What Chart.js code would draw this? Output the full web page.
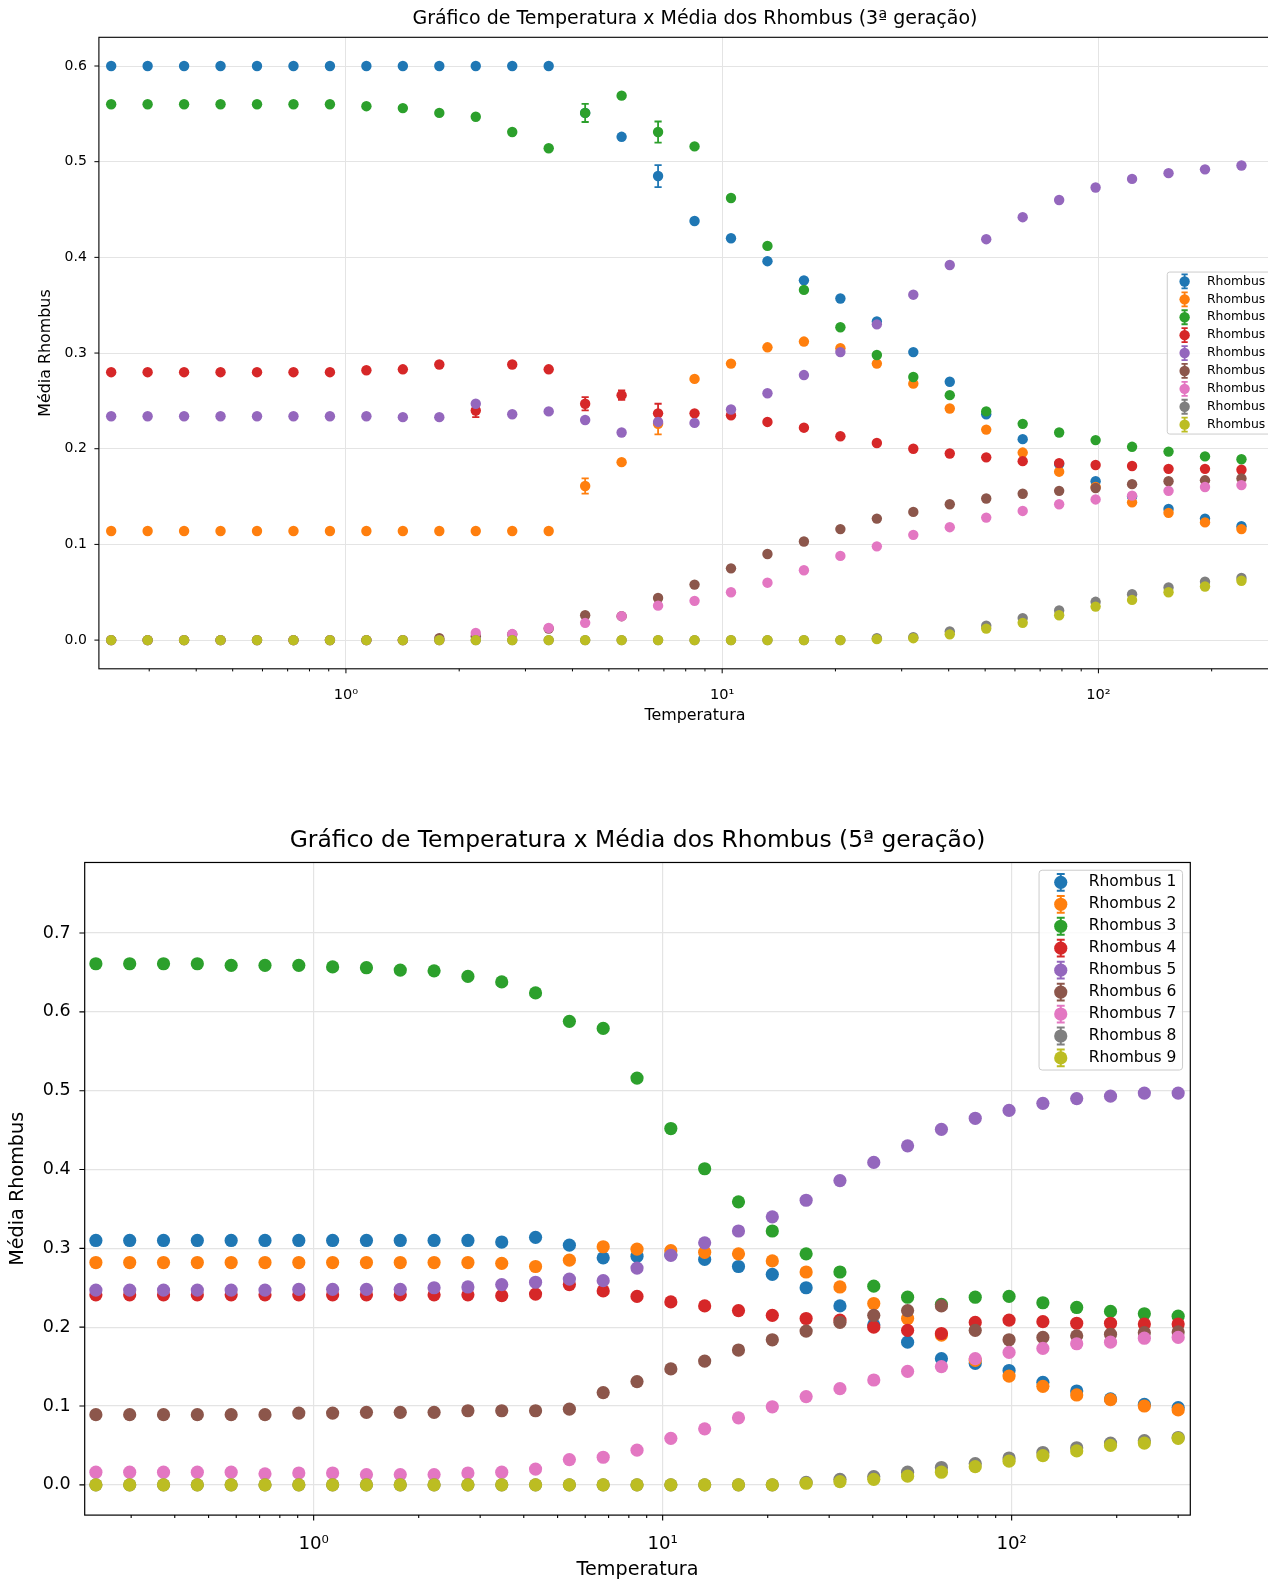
<!DOCTYPE html>
<html>
<head>
<meta charset="utf-8">
<script src="https://cdn.jsdelivr.net/npm/chart.js@4.4.0/dist/chart.umd.min.js"></script>
<style>
html, body { margin: 0; padding: 0; background: #ffffff; overflow: hidden; }
#wrapTop { position: absolute; left: 0; top: 0; width: 1268px; height: 780px; overflow: hidden; }
#wrapBot { position: absolute; left: 0; top: 780px; width: 1268px; height: 802px; overflow: hidden; }
canvas { display: block; }
</style>
</head>
<body>
<div id="wrapTop"><canvas id="chartTop" width="1300" height="780"></canvas></div>
<div id="wrapBot"><canvas id="chartBot" width="1268" height="802"></canvas></div>
<script>
// ---------------- DATA ----------------
const TITLE_TOP = 'Gráfico de Temperatura x Média dos Rhombus (3ª geração)';
const TITLE_BOT = 'Gráfico de Temperatura x Média dos Rhombus (5ª geração)';
const X_LABEL = 'Temperatura';
const Y_LABEL = 'Média Rhombus';
const SERIES_NAMES = ['Rhombus 1','Rhombus 2','Rhombus 3','Rhombus 4','Rhombus 5','Rhombus 6','Rhombus 7','Rhombus 8','Rhombus 9'];

// temperatures (log axis)
const TEMPS_TOP = [0.2377,0.2971,0.3714,0.4642,0.5803,0.7254,0.9067,1.1334,1.4167,1.7709,2.2136,2.7670,3.4588,4.3235,5.4043,6.7554,8.4442,10.555,13.194,16.493,20.616,25.770,32.212,40.265,50.332,62.915,78.643,98.304,122.88,153.60,192.00,240.00];
const TEMPS_BOT = [0.2377,0.2971,0.3714,0.4642,0.5803,0.7254,0.9067,1.1334,1.4167,1.7709,2.2136,2.7670,3.4588,4.3235,5.4043,6.7554,8.4442,10.555,13.194,16.493,20.616,25.770,32.212,40.265,50.332,62.915,78.643,98.304,122.88,153.60,192.00,240.00,300.00];

// tick values / labels
const X_MAJOR = [1, 10, 100];
const X_MAJOR_LABELS = ['10⁰', '10¹', '10²'];
const X_MINOR = [0.3,0.4,0.5,0.6,0.7,0.8,0.9,2,3,4,5,6,7,8,9,20,30,40,50,60,70,80,90,200,300];
const Y_TICKS_TOP = [0.0,0.1,0.2,0.3,0.4,0.5,0.6];
const Y_TICKS_BOT = [0.0,0.1,0.2,0.3,0.4,0.5,0.6,0.7];

// 3ª geração
const top_r1 = [0.600,0.600,0.600,0.600,0.600,0.600,0.600,0.600,0.600,0.600,0.600,0.600,0.600,0.551,0.526,0.485,0.438,0.420,0.396,0.376,0.357,0.333,0.301,0.270,0.236,0.210,0.184,0.166,0.150,0.137,0.127,0.119];
const top_r2 = [0.114,0.114,0.114,0.114,0.114,0.114,0.114,0.114,0.114,0.114,0.114,0.114,0.114,0.161,0.186,0.226,0.273,0.289,0.306,0.312,0.305,0.289,0.268,0.242,0.220,0.196,0.176,0.160,0.144,0.133,0.123,0.116];
const top_r3 = [0.560,0.560,0.560,0.560,0.560,0.560,0.560,0.558,0.556,0.551,0.547,0.531,0.514,0.551,0.569,0.531,0.516,0.462,0.412,0.366,0.327,0.298,0.275,0.256,0.239,0.226,0.217,0.209,0.202,0.197,0.192,0.189];
const top_r4 = [0.280,0.280,0.280,0.280,0.280,0.280,0.280,0.282,0.283,0.288,0.240,0.288,0.283,0.247,0.256,0.237,0.237,0.235,0.228,0.222,0.213,0.206,0.200,0.195,0.191,0.187,0.185,0.183,0.182,0.179,0.179,0.178];
const top_r5 = [0.234,0.234,0.234,0.234,0.234,0.234,0.234,0.234,0.233,0.233,0.247,0.236,0.239,0.230,0.217,0.228,0.227,0.241,0.258,0.277,0.301,0.330,0.361,0.392,0.419,0.442,0.460,0.473,0.482,0.488,0.492,0.496];
const top_r6 = [0,0,0,0,0,0,0,0,0,0.002,0.004,0.006,0.012,0.026,0.025,0.044,0.058,0.075,0.090,0.103,0.116,0.127,0.134,0.142,0.148,0.153,0.156,0.159,0.163,0.166,0.167,0.169];
const top_r7 = [0,0,0,0,0,0,0,0,0,0,0.0074,0.0063,0.0127,0.018,0.025,0.036,0.041,0.050,0.060,0.073,0.088,0.098,0.110,0.118,0.128,0.135,0.142,0.147,0.151,0.156,0.160,0.162];
const top_r8 = [0,0,0,0,0,0,0,0,0,0,0,0,0,0,0,0,0,0,0,0,0,0.002,0.003,0.009,0.015,0.023,0.031,0.040,0.048,0.055,0.061,0.065];
const top_r9 = [0,0,0,0,0,0,0,0,0,0,0,0,0,0,0,0,0,0,0,0,0,0.001,0.002,0.006,0.012,0.018,0.026,0.035,0.042,0.050,0.056,0.062];

// error bars (3ª geração)
const top_r1_err = [0,0,0,0,0,0,0,0,0,0,0,0,0,0,0,0.0115,0,0,0,0,0,0,0,0,0,0,0,0,0,0,0,0];
const top_r2_err = [0,0,0,0,0,0,0,0,0,0,0,0,0,0.008,0,0.011,0,0,0,0,0,0,0,0,0,0,0,0,0,0,0,0];
const top_r3_err = [0,0,0,0,0,0,0,0,0,0,0,0,0,0.0095,0,0.011,0,0,0,0,0,0,0,0,0,0,0,0,0,0,0,0];
const top_r4_err = [0,0,0,0,0,0,0,0,0,0,0.007,0,0,0.007,0.005,0.010,0,0,0,0,0,0,0,0,0,0,0,0,0,0,0,0];

// 5ª geração
const bot_r1 = [0.310,0.310,0.310,0.310,0.310,0.310,0.310,0.310,0.310,0.310,0.310,0.310,0.308,0.314,0.304,0.288,0.290,0.292,0.286,0.277,0.267,0.250,0.227,0.203,0.181,0.160,0.154,0.145,0.130,0.119,0.109,0.102,0.098];
const bot_r2 = [0.282,0.282,0.282,0.282,0.282,0.282,0.282,0.282,0.282,0.282,0.282,0.282,0.281,0.277,0.285,0.302,0.299,0.297,0.295,0.293,0.284,0.270,0.251,0.230,0.211,0.190,0.158,0.138,0.125,0.114,0.108,0.100,0.095];
const bot_r3 = [0.661,0.661,0.661,0.661,0.659,0.659,0.659,0.657,0.656,0.653,0.652,0.645,0.638,0.624,0.588,0.579,0.516,0.452,0.401,0.359,0.322,0.293,0.270,0.252,0.238,0.229,0.238,0.239,0.231,0.225,0.220,0.217,0.214];
const bot_r4 = [0.241,0.241,0.241,0.241,0.241,0.241,0.241,0.241,0.241,0.241,0.241,0.241,0.240,0.242,0.254,0.246,0.239,0.232,0.227,0.221,0.215,0.211,0.209,0.200,0.196,0.192,0.206,0.209,0.207,0.205,0.205,0.204,0.204];
const bot_r5 = [0.247,0.247,0.247,0.247,0.247,0.247,0.248,0.248,0.248,0.248,0.250,0.251,0.254,0.257,0.261,0.259,0.275,0.291,0.307,0.322,0.340,0.361,0.386,0.409,0.430,0.451,0.465,0.475,0.484,0.490,0.493,0.497,0.497];
const bot_r6 = [0.089,0.089,0.089,0.089,0.089,0.089,0.091,0.091,0.092,0.092,0.092,0.094,0.094,0.094,0.096,0.117,0.131,0.147,0.157,0.171,0.184,0.195,0.206,0.215,0.221,0.227,0.196,0.184,0.187,0.189,0.191,0.193,0.194];
const bot_r7 = [0.016,0.016,0.016,0.016,0.016,0.014,0.015,0.015,0.013,0.013,0.013,0.015,0.016,0.020,0.032,0.035,0.044,0.059,0.071,0.085,0.099,0.112,0.122,0.133,0.144,0.150,0.160,0.168,0.173,0.179,0.181,0.186,0.187];
const bot_r8 = [0,0,0,0,0,0,0,0,0,0,0,0,0,0,0,0,0,0,0,0,0,0.003,0.007,0.0105,0.016,0.022,0.027,0.034,0.041,0.047,0.053,0.056,0.060];
const bot_r9 = [0,0,0,0,0,0,0,0,0,0,0,0,0,0,0,0,0,0,0,0,0,0.002,0.004,0.007,0.011,0.016,0.023,0.030,0.037,0.043,0.050,0.053,0.059];

// ---------------- STYLE ----------------
const COLORS = ['#1f77b4','#ff7f0e','#2ca02c','#d62728','#9467bd','#8c564b','#e377c2','#7f7f7f','#bcbd22'];
const GRID_COLOR = '#e4e4e4';
const FONT_FAMILY = "'DejaVu Sans', 'Liberation Sans', sans-serif";
Chart.defaults.font.family = FONT_FAMILY;
Chart.defaults.color = '#000000';

function buildDatasets(temps, seriesList, errList, radius) {
  return seriesList.map((vals, i) => ({
    label: SERIES_NAMES[i],
    data: temps.map((t, k) => ({ x: t, y: vals[k] })),
    errors: errList ? errList[i] : null,
    backgroundColor: COLORS[i],
    borderColor: COLORS[i],
    pointRadius: radius,
    pointHoverRadius: radius,
    pointBorderWidth: 0,
    order: seriesList.length - 1 - i
  }));
}

function xTickLabel(v) {
  const k = X_MAJOR.indexOf(v);
  return k >= 0 ? X_MAJOR_LABELS[k] : '';
}

const mplPlugin = {
  id: 'mpl',
  beforeDatasetDraw(chart, args, o) {
    const ds = chart.data.datasets[args.index];
    if (!ds.errors) return;
    const ctx = chart.ctx, xs = chart.scales.x, ys = chart.scales.y;
    ctx.save();
    ctx.strokeStyle = ds.borderColor;
    ctx.lineWidth = o.errWidth;
    ds.data.forEach((p, i) => {
      const e = ds.errors[i];
      if (!e) return;
      const px = xs.getPixelForValue(p.x);
      const yLo = ys.getPixelForValue(p.y - e), yHi = ys.getPixelForValue(p.y + e);
      ctx.beginPath();
      ctx.moveTo(px, yLo); ctx.lineTo(px, yHi);
      ctx.moveTo(px - o.cap, yLo); ctx.lineTo(px + o.cap, yLo);
      ctx.moveTo(px - o.cap, yHi); ctx.lineTo(px + o.cap, yHi);
      ctx.stroke();
    });
    ctx.restore();
  },
  afterDatasetsDraw(chart, args, o) {
    const ctx = chart.ctx, a = chart.chartArea, xs = chart.scales.x, ys = chart.scales.y;
    ctx.save();
    ctx.strokeStyle = '#000000';
    ctx.lineWidth = o.tickWidth;
    ctx.beginPath();
    xs.ticks.forEach(t => {
      const px = xs.getPixelForValue(t.value);
      const len = X_MAJOR.includes(t.value) ? o.majorLen : o.minorLen;
      ctx.moveTo(px, a.bottom); ctx.lineTo(px, a.bottom + len);
    });
    ys.ticks.forEach(t => {
      const py = ys.getPixelForValue(t.value);
      ctx.moveTo(a.left, py); ctx.lineTo(a.left - o.majorLen, py);
    });
    ctx.stroke();
    ctx.lineWidth = o.frameWidth;
    ctx.strokeRect(a.left, a.top, a.right - a.left, a.bottom - a.top);
    ctx.restore();
  },
  afterDraw(chart, args, o) {
    const ctx = chart.ctx, a = chart.chartArea, F = o.legendFont;
    const dss = chart.data.datasets;
    ctx.save();
    ctx.font = F + 'px ' + FONT_FAMILY;
    const textW = Math.max(...dss.map(d => ctx.measureText(d.label).width));
    const w = 3.6 * F + textW;
    const h = (dss.length - 1) * o.legendRow + 2 * o.legendPad;
    const left = a.right - o.legendRightGap - w;
    const top = o.legendLoc === 'center right' ? (a.top + a.bottom) / 2 - h / 2 : a.top + 0.5 * F;
    ctx.beginPath();
    ctx.roundRect(left, top, w, h, 0.2 * F);
    ctx.fillStyle = 'rgba(255,255,255,0.8)';
    ctx.fill();
    ctx.strokeStyle = '#cccccc';
    ctx.lineWidth = 1;
    ctx.stroke();
    dss.forEach((d, i) => {
      const cy = top + o.legendPad + i * o.legendRow;
      const cx = left + 1.4 * F;
      const r = d.pointRadius;
      const eh = r + 1.8, cw = r * 0.6;
      ctx.strokeStyle = d.borderColor;
      ctx.lineWidth = o.errWidth;
      ctx.beginPath();
      ctx.moveTo(cx, cy - eh); ctx.lineTo(cx, cy + eh);
      ctx.moveTo(cx - cw, cy - eh); ctx.lineTo(cx + cw, cy - eh);
      ctx.moveTo(cx - cw, cy + eh); ctx.lineTo(cx + cw, cy + eh);
      ctx.stroke();
      ctx.fillStyle = d.backgroundColor;
      ctx.beginPath();
      ctx.arc(cx, cy, r, 0, Math.PI * 2);
      ctx.fill();
      ctx.fillStyle = '#000000';
      ctx.textBaseline = 'middle';
      ctx.textAlign = 'left';
      ctx.fillText(d.label, left + 3.2 * F, cy);
    });
    ctx.restore();
  }
};

function makeConfig(p) {
  return {
    type: 'scatter',
    data: { datasets: buildDatasets(p.temps, p.series, p.errors, p.radius) },
    plugins: [mplPlugin],
    options: {
      responsive: false,
      animation: false,
      events: [],
      layout: { padding: { left: 0, right: p.padRight, top: 0, bottom: 0 } },
      plugins: {
        legend: { display: false },
        tooltip: { enabled: false },
        title: {
          display: true, text: p.title, fullSize: false, color: '#000000',
          font: { size: p.titleSize, weight: 'normal' },
          padding: { top: p.titlePadTop, bottom: p.titlePadBottom }
        },
        mpl: p.mpl
      },
      scales: {
        x: {
          type: 'logarithmic', position: 'bottom', bounds: 'data',
          min: p.xMin, max: p.xMax,
          afterBuildTicks: s => { s.ticks = X_MINOR.concat(X_MAJOR).sort((u, v) => u - v).map(v => ({ value: v, major: X_MAJOR.includes(v) })); },
          afterFit: s => { s.height = p.xAxisHeight; },
          ticks: { autoSkip: false, maxRotation: 0, minRotation: 0, padding: p.xTickPad, color: '#000000', font: { size: p.xTickSize }, callback: v => xTickLabel(v) },
          grid: { drawTicks: false, lineWidth: p.gridWidth, color: c => (c.tick && X_MAJOR.includes(c.tick.value)) ? GRID_COLOR : 'rgba(0,0,0,0)' },
          border: { display: false },
          title: { display: true, text: X_LABEL, color: '#000000', font: { size: p.labelSize }, padding: { top: 0, bottom: p.xTitlePadBottom } }
        },
        y: {
          type: 'linear', position: 'left', bounds: 'data',
          min: p.yMin, max: p.yMax,
          afterBuildTicks: s => { s.ticks = p.yTicks.map(v => ({ value: v })); },
          afterFit: s => { s.width = p.yAxisWidth; },
          ticks: { padding: p.yTickPad, color: '#000000', font: { size: p.tickSize }, callback: v => Number(v).toFixed(1) },
          grid: { drawTicks: false, lineWidth: p.gridWidth, color: GRID_COLOR },
          border: { display: false },
          title: { display: true, text: Y_LABEL, color: '#000000', font: { size: p.labelSize }, padding: { top: p.yTitlePadTop, bottom: 0 } }
        }
      }
    }
  };
}

new Chart(document.getElementById('chartTop'), makeConfig({
  temps: TEMPS_TOP,
  series: [top_r1, top_r2, top_r3, top_r4, top_r5, top_r6, top_r7, top_r8, top_r9],
  errors: [top_r1_err, top_r2_err, top_r3_err, top_r4_err, null, null, null, null, null],
  radius: 5.2,
  title: TITLE_TOP, titleSize: 19.0, titlePadTop: 7.8, titlePadBottom: 6.7,
  padRight: 9,
  xMin: 0.2205, xMax: 325, yMin: -0.03, yMax: 0.63, yTicks: Y_TICKS_TOP,
  xAxisHeight: 111.2, yAxisWidth: 98.9,
  tickSize: 14, xTickSize: 14.6, labelSize: 15.9, xTickPad: 17.2, yTickPad: 12.1,
  xTitlePadBottom: 54.5, yTitlePadTop: 35.9, gridWidth: 1,
  mpl: { errWidth: 1.8, cap: 3.6, majorLen: 4.5, minorLen: 2.6, tickWidth: 1, frameWidth: 1.1,
         legendFont: 12.4, legendRow: 17.9, legendPad: 9.4, legendLoc: 'center right', legendRightGap: 9 }
}));

new Chart(document.getElementById('chartBot'), makeConfig({
  temps: TEMPS_BOT,
  series: [bot_r1, bot_r2, bot_r3, bot_r4, bot_r5, bot_r6, bot_r7, bot_r8, bot_r9],
  errors: null,
  radius: 6.6,
  title: TITLE_BOT, titleSize: 23.4, titlePadTop: 47.3, titlePadBottom: 7.1,
  padRight: 77.7,
  xMin: 0.2208, xMax: 325, yMin: -0.0384, yMax: 0.7895, yTicks: Y_TICKS_BOT,
  xAxisHeight: 66.9, yAxisWidth: 84.7,
  tickSize: 17.5, xTickSize: 18.2, labelSize: 19.2, xTickPad: 18.5, yTickPad: 14,
  xTitlePadBottom: 0, yTitlePadTop: 6.7, gridWidth: 1.2,
  mpl: { errWidth: 2, cap: 4, majorLen: 5.3, minorLen: 3, tickWidth: 1.1, frameWidth: 1.2,
         legendFont: 15.5, legendRow: 21.95, legendPad: 12.1, legendLoc: 'upper right', legendRightGap: 7.75 }
}));
</script>
</body>
</html>
